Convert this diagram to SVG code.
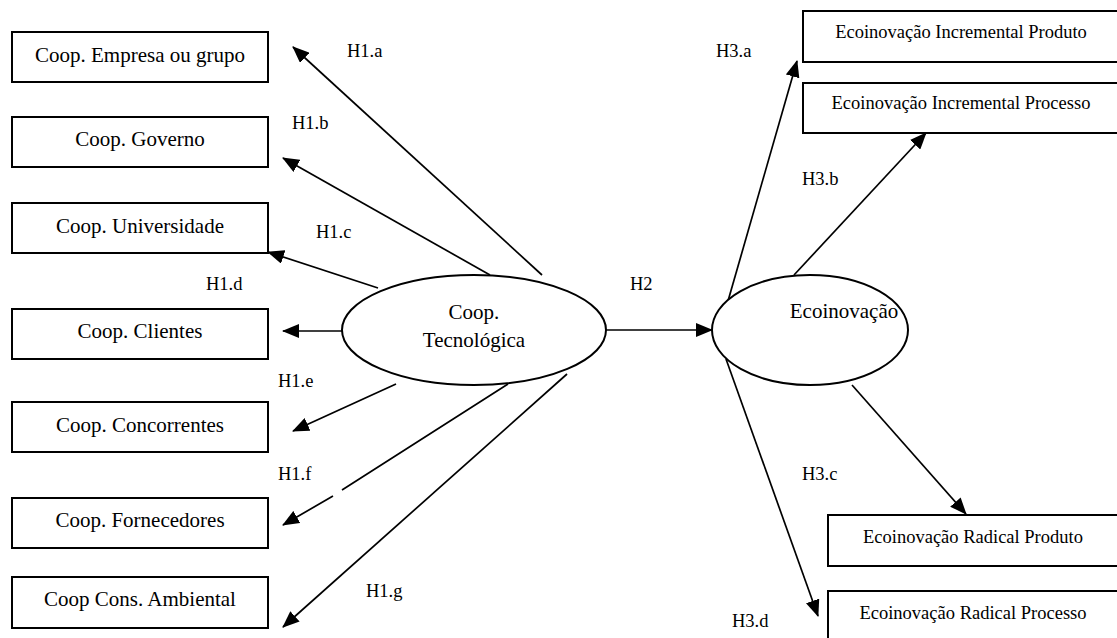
<svg xmlns="http://www.w3.org/2000/svg" width="1117" height="638" viewBox="0 0 1117 638">
  <style>
    .box { fill: #fff; stroke: #000; stroke-width: 2; }
    .ell { fill: #fff; stroke: #000; stroke-width: 2; }
    .t { font-family: "Liberation Serif", "Times New Roman", serif; fill: #000; text-anchor: middle; }
    .big { font-size: 21px; }
    .mid { font-size: 18.5px; }
    .lbl { font-family: "Liberation Serif", "Times New Roman", serif; font-size: 18.5px; fill: #000; }
    .edge { fill: none; stroke: #000; stroke-width: 1.7; marker-end: url(#arrow); }
  </style>
  <defs>
    <marker id="arrow" markerUnits="userSpaceOnUse" markerWidth="17" markerHeight="14" refX="16" refY="7" orient="auto">
      <path d="M0,0 L17,7 L0,14 z" fill="#000"/>
    </marker>
  </defs>
  <rect width="1117" height="638" fill="#fff"/>

  <!-- connectors -->
  <g id="connectors">
    <path class="edge" d="M542,275 L293,47"/>
    <path class="edge" d="M490,275 L283,158"/>
    <path class="edge" d="M378,288 L268,252"/>
    <path class="edge" d="M342,331 L283,331"/>
    <path class="edge" d="M396,384 L293,431"/>
    <path class="edge" d="M508,384 L342,490 M333,496 L283,525"/>
    <path class="edge" d="M567,374 L283,627"/>
    <path class="edge" d="M606,330 L712,330"/>
    <path class="edge" d="M728,301 L797,61"/>
    <path class="edge" d="M794,275 L926,133"/>
    <path class="edge" d="M852,385 L966,514"/>
    <path class="edge" d="M726,359 L818,616"/>
  </g>

  <!-- labels -->
  <g id="labels">
    <text class="lbl" x="347" y="57">H1.a</text>
    <text class="lbl" x="292" y="129">H1.b</text>
    <text class="lbl" x="316" y="238">H1.c</text>
    <text class="lbl" x="206" y="290">H1.d</text>
    <text class="lbl" x="278" y="387">H1.e</text>
    <text class="lbl" x="278" y="480">H1.f</text>
    <text class="lbl" x="366" y="597">H1.g</text>
    <text class="lbl" x="630" y="290">H2</text>
    <text class="lbl" x="716" y="57">H3.a</text>
    <text class="lbl" x="802" y="185">H3.b</text>
    <text class="lbl" x="802" y="480">H3.c</text>
    <text class="lbl" x="732" y="627">H3.d</text>
  </g>

  <!-- left partner nodes -->
  <g id="coop-empresa"><rect class="box" x="12" y="32" width="256" height="50"/><text class="t big" x="140" y="62">Coop. Empresa ou grupo</text></g>
  <g id="coop-governo"><rect class="box" x="12" y="117" width="256" height="50"/><text class="t big" x="140" y="146">Coop. Governo</text></g>
  <g id="coop-universidade"><rect class="box" x="12" y="203" width="256" height="50"/><text class="t big" x="140" y="233">Coop. Universidade</text></g>
  <g id="coop-clientes"><rect class="box" x="12" y="309" width="256" height="50"/><text class="t big" x="140" y="338">Coop. Clientes</text></g>
  <g id="coop-concorrentes"><rect class="box" x="12" y="402" width="256" height="50"/><text class="t big" x="140" y="432">Coop. Concorrentes</text></g>
  <g id="coop-fornecedores"><rect class="box" x="12" y="498" width="256" height="50"/><text class="t big" x="140" y="527">Coop. Fornecedores</text></g>
  <g id="coop-ambiental"><rect class="box" x="12" y="577" width="256" height="51"/><text class="t big" x="140" y="606">Coop Cons. Ambiental</text></g>

  <!-- central constructs -->
  <g id="coop-tecnologica"><ellipse class="ell" cx="474" cy="330" rx="132" ry="55"/><text class="t big" x="474" y="319">Coop.</text><text class="t big" x="474" y="347">Tecnológica</text></g>
  <g id="ecoinovacao"><ellipse class="ell" cx="810" cy="330" rx="98" ry="55"/><text class="t big" x="844" y="318">Ecoinovação</text></g>

  <!-- outcome nodes -->
  <g id="eco-inc-produto"><rect class="box" x="803" y="11" width="316" height="51"/><text class="t mid" x="961" y="38">Ecoinovação Incremental Produto</text></g>
  <g id="eco-inc-processo"><rect class="box" x="803" y="83" width="316" height="50"/><text class="t mid" x="961" y="109">Ecoinovação Incremental Processo</text></g>
  <g id="eco-rad-produto"><rect class="box" x="828" y="515" width="291" height="51"/><text class="t mid" x="973" y="543">Ecoinovação Radical Produto</text></g>
  <g id="eco-rad-processo"><rect class="box" x="828" y="591" width="291" height="60"/><text class="t mid" x="973" y="619">Ecoinovação Radical Processo</text></g>
</svg>
